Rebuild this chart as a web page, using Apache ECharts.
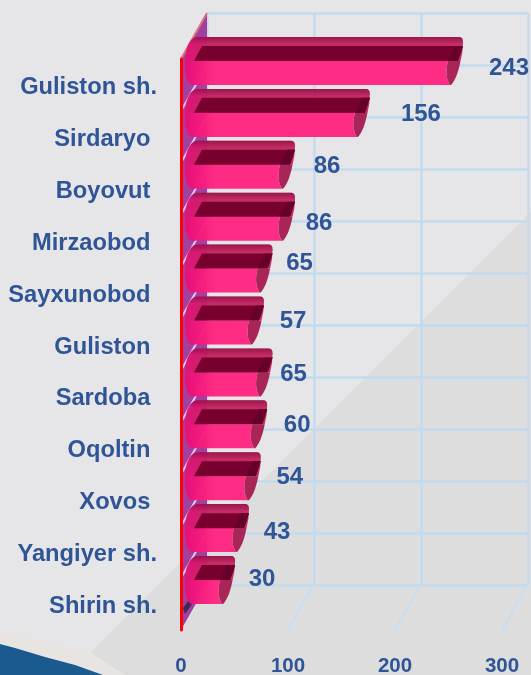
<!DOCTYPE html>
<html><head><meta charset="utf-8">
<style>html,body{margin:0;padding:0;background:#e6e6e8}#c{width:531px;height:675px}</style>
<script src="https://cdn.jsdelivr.net/npm/echarts@6/dist/echarts.min.js"></script>
</head><body><div id="c"></div>
<script>
const categories = ['Guliston sh.','Sirdaryo ','Boyovut ','Mirzaobod ','Sayxunobod ','Guliston ','Sardoba ','Oqoltin ','Xovos ','Yangiyer sh.','Shirin sh.'];
const values = [243,156,86,86,65,57,65,60,54,43,30];
const xTicks = [0,100,200,300];
// hand-placed value label offsets from each bar's end, as in the reference
const labelDx = [61,66,47,39,42,44,36,45,44,43,42];
const labelDy = [-17,-22,-22,-17,-29,-23,-22,-23,-23,-20,-25];

const BLUE='#2f5597', GRID='#c3daee';
const FONT='"Liberation Sans",Arial,sans-serif';
const DEPTH_X=26, DEPTH_Y=-46;
const chart=echarts.init(document.getElementById('c'),null,{renderer:'canvas'});

function renderFloor(params,api){
  const v=api.value(0);
  const half=api.size([0,1])[1]/2;
  const p=api.coord([v,categories.length-1]);
  const y=p[1]+half;
  if(v===0) return {type:'group',children:[]};
  return {type:'line',shape:{x1:p[0],y1:y,x2:p[0]+DEPTH_X,y2:y+DEPTH_Y},style:{stroke:'#c6def3',lineWidth:2}};
}
function renderWall(params,api){
  const i=api.value(1);
  const p=api.coord([0,i]);
  const half=api.size([0,1])[1]/2;
  const ch=[];
  const top=p[1]-half, bot=p[1]+half;
  if(i===0){
    ch.push({type:'polygon',shape:{points:[[p[0],top],[p[0]+DEPTH_X,top+DEPTH_Y],[p[0]+DEPTH_X,top+DEPTH_Y+categories.length*2*half],[p[0],top+categories.length*2*half]]},style:{fill:'#a23f9f'}});
    ch.push({type:'line',shape:{x1:p[0],y1:top,x2:p[0]+DEPTH_X,y2:top+DEPTH_Y},style:{stroke:'#e0707c',lineWidth:2}});
  }
  if(i<categories.length-1){
    ch.push({type:'line',shape:{x1:p[0],y1:bot,x2:p[0]+DEPTH_X,y2:bot+DEPTH_Y},style:{stroke:'#d8cdf0',lineWidth:2}});
  } else {
    ch.push({type:'polygon',shape:{points:[[p[0]+4,bot-16],[p[0]+14,bot-30],[p[0]+8,bot-30],[p[0]+2,bot-22]]},style:{fill:'#3c2a55'}});
    ch.push({type:'polygon',shape:{points:[[p[0]+12,top+3],[p[0]+24,top+3],[p[0]+24,top-5],[p[0]+18,top-5]]},style:{fill:'#3c2a55'}});
  }
  return {type:'group',children:ch};
}
function renderBar(params,api){
  const v=api.value(0), i=api.value(1);
  const o=api.coord([0,i]);
  const e=api.coord([v,i]);
  const O=o[0], cy=o[1], E=e[0]+7;
  const P=(x,y)=>x.toFixed(1)+' '+(cy+y).toFixed(1);
  const upper='M'+P(O+10,-24)+' L'+P(O+4,-24)+' C'+P(O+4,-37)+' '+P(O+9,-48)+' '+P(O+17,-48)
    +' L'+P(E+11,-48)+' Q'+P(E+15,-48)+' '+P(E+15,-43)+' Q'+P(E+15,-33)+' '+P(E+12.5,-24)+' Z';
  const lower='M'+P(O+4,-24)+' C'+P(O+4,-12)+' '+P(O+5,-3)+' '+P(O+10,0)+' L'+P(E+2,0)+' C'+P(E-2,-6)+' '+P(E-2.5,-14)+' '+P(E,-24)+' Z';
  const cap='M'+P(E,-24)+' C'+P(E-2.5,-14)+' '+P(E-2,-6)+' '+P(E+2,0)+' L'+P(E+3,0)+' C'+P(E+7,-4)+' '+P(E+10.5,-13)+' '+P(E+12.5,-24)+' Z';
  const slot=[[O+13,cy-24],[O+21,cy-39],[E+15,cy-39],[E+10,cy-24]];
  const slotCap=[[E,cy-24],[E+7.5,cy-39],[E+15,cy-39],[E+10,cy-24]];
  return {type:'group',children:[
    {type:'path',shape:{pathData:upper},style:{fill:{type:'linear',global:true,x:O,y:0,x2:O+32,y2:0,colorStops:[{offset:0,color:'#e8107a'},{offset:1,color:'#c4245f'}]},opacity:.96}},
    {type:'path',shape:{pathData:upper},style:{fill:{type:'linear',x:0,y:0,x2:0,y2:1,colorStops:[{offset:0,color:'rgba(120,10,60,.6)'},{offset:.3,color:'rgba(120,10,60,0)'},{offset:1,color:'rgba(120,10,60,0)'}]}}},
    {type:'path',shape:{pathData:lower},style:{fill:{type:'linear',global:true,x:O,y:0,x2:O+34,y2:0,colorStops:[{offset:0,color:'#e20c76'},{offset:.5,color:'#f4187c'},{offset:1,color:'#ff2681'}]},opacity:.97}},
    {type:'polygon',shape:{points:slot},style:{fill:'#78002f'}},
    {type:'polygon',shape:{points:slotCap},style:{fill:'#64002a'}},
    {type:'path',shape:{pathData:cap},style:{fill:'#a92457'}}
  ]};
}
function renderLabel(params,api){
  const v=api.value(0), i=api.value(1);
  const e=api.coord([v,i]);
  return {type:'text',style:{text:String(v),x:e[0]+7+labelDx[i],y:e[1]+labelDy[i],align:'center',verticalAlign:'middle',fill:BLUE,font:'bold 24px '+FONT}};
}
const rows=values.map((v,i)=>[v,i]);
chart.setOption({
  animation:false,
  backgroundColor:'#e6e6e8',
  graphic:[
    {type:'polygon',z:-10,silent:true,shape:{points:[[531,212],[531,675],[75,675],[88,655]]},style:{fill:'#dddddd'}},
    {type:'polygon',z:-9,silent:true,shape:{points:[[0,632],[45,642],[90,652],[125,675],[0,675]]},style:{fill:'#e7e4e2'}},
    {type:'polygon',z:-8,silent:true,shape:{points:[[0,644],[15,648],[45,657],[75,665],[103,675],[0,675]]},style:{fill:'#1a5a8e'}}
  ],
  grid:[
    {left:207,top:13,width:321,height:572,containLabel:false,outerBoundsMode:'none'},
    {left:181,top:59,width:321,height:571,containLabel:false,outerBoundsMode:'none'}
  ],
  xAxis:[
    {gridIndex:0,type:'value',min:0,max:300,interval:100,axisLabel:{show:false},axisLine:{show:false},axisTick:{show:false},splitLine:{show:true,lineStyle:{color:GRID,width:2.5}}},
    {gridIndex:1,type:'value',min:0,max:300,interval:100,axisLine:{show:false},axisTick:{show:false},splitLine:{show:false},
      axisLabel:{show:true,margin:26,color:BLUE,fontFamily:FONT,fontWeight:'bold',fontSize:20.5,formatter:v=>String(v)}}
  ],
  yAxis:[
    {gridIndex:0,type:'category',inverse:true,data:categories,axisLabel:{show:false},axisLine:{show:false},axisTick:{show:false},splitLine:{show:true,lineStyle:{color:GRID,width:2.5}}},
    {gridIndex:1,type:'category',inverse:true,data:categories,axisTick:{show:false},splitLine:{show:false},
      axisLine:{show:true,onZero:false,lineStyle:{color:'#ff0000',width:3}},z:20,
      axisLabel:{show:true,margin:24,color:BLUE,fontFamily:FONT,fontWeight:'bold',fontSize:23.7,interval:0,verticalAlign:'middle',padding:[0,0,0,0],lineHeight:28,
        formatter:v=>'{a|'+v+'}',rich:{a:{color:BLUE,fontFamily:FONT,fontWeight:'bold',fontSize:23.7,lineHeight:28,padding:[5,0,0,0]}}}}
  ],
  series:[
    {type:'custom',xAxisIndex:1,yAxisIndex:1,z:2,silent:true,clip:false,data:xTicks.map(t=>[t,0]),renderItem:renderFloor},
    {type:'custom',xAxisIndex:1,yAxisIndex:1,z:3,silent:true,clip:false,data:rows,renderItem:renderWall},
    {type:'custom',name:'bars',xAxisIndex:1,yAxisIndex:1,z:4,silent:true,clip:false,data:rows,renderItem:renderBar},
    {type:'custom',xAxisIndex:1,yAxisIndex:1,z:5,silent:true,clip:false,data:rows,renderItem:renderLabel}
  ]
});
</script></body></html>
